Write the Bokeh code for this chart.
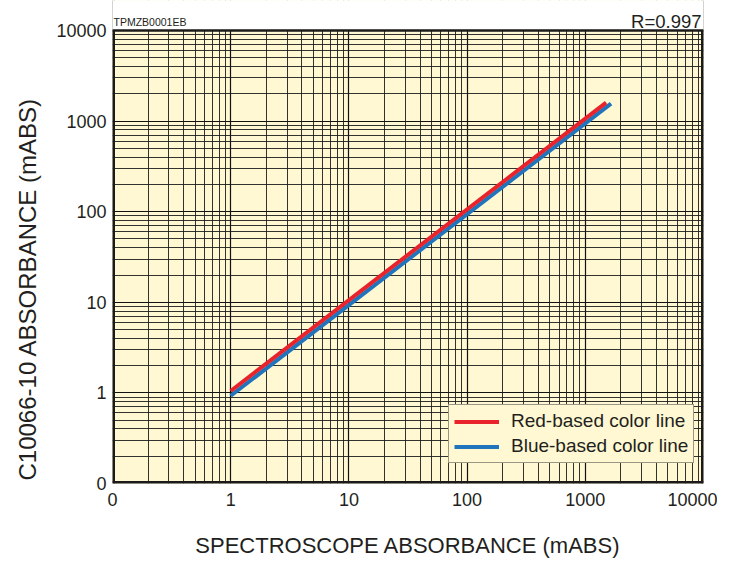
from bokeh.plotting import figure
from bokeh.models import FixedTicker, Grid, Label, Legend, LegendItem, Title, BoxAnnotation
from bokeh.embed import file_html
from bokeh.resources import INLINE

# ---- data ----
tick_values = [0.1, 1, 10, 100, 1000, 10000]
tick_labels = ["0", "1", "10", "100", "1000", "10000"]
red_x = [1.0, 1500.0]
red_y = [1.05, 1600.0]
blue_x = [1.0, 1650.0]
blue_y = [0.93, 1560.0]
series_names = ["Red-based color line", "Blue-based color line"]
r_text = "R=0.997"
code_text = "TPMZB0001EB"
x_title = "SPECTROSCOPE ABSORBANCE (mABS)"
y_title = "C10066-10 ABSORBANCE (mABS)"

FONT = "Liberation Sans"
BG = "#FFF8D3"
TXT = "#231F20"
EDGE = "#1a1a1a"

W, H = 717, 563
LEFT, RIGHT, BOTTOM = 112, 703, 483
STRIP = 30  # white band above the plot area (inside the canvas frame) for the top texts
xmin, xmax = tick_values[0], tick_values[-1]
ymin, ymax = tick_values[0], tick_values[-1]
px_per_decade = (BOTTOM - STRIP) / 5.0
y_top = ymax * 10 ** (STRIP / px_per_decade)

p = figure(width=W, height=H, x_axis_type="log", y_axis_type="log",
           x_range=(xmin, xmax), y_range=(ymin, y_top),
           output_backend="svg", toolbar_location=None,
           min_border_left=LEFT, min_border_right=W - RIGHT,
           min_border_top=0, min_border_bottom=H - BOTTOM)
p.background_fill_color = BG
p.border_fill_color = "white"
p.outline_line_color = None

minor = [k * 10.0 ** e for e in range(-1, 4) for k in range(2, 10)]

for ax in (p.xaxis[0], p.yaxis[0]):
    ax.ticker = FixedTicker(ticks=tick_values, minor_ticks=[])
    ax.major_label_overrides = {v: l for v, l in zip(tick_values, tick_labels)}
    ax.major_label_text_font = FONT
    ax.major_label_text_font_size = "18px"
    ax.major_label_text_color = TXT
    ax.major_tick_line_color = None
    ax.minor_tick_line_color = None
    ax.major_tick_out = 0
    ax.major_tick_in = 0
    ax.minor_tick_out = 0
    ax.minor_tick_in = 0
    ax.axis_line_color = None
    ax.major_label_standoff = 6

p.xaxis.major_label_standoff = 9
p.xaxis.axis_label = x_title
p.xaxis.axis_label_text_font = FONT
p.xaxis.axis_label_text_font_size = "22px"
p.xaxis.axis_label_text_font_style = "normal"
p.xaxis.axis_label_text_color = TXT
p.xaxis.axis_label_standoff = 24

p.add_layout(Title(text=y_title, align="left", offset=3, standoff=21,
                   vertical_align="top", text_font=FONT, text_font_size="24px",
                   text_font_style="normal", text_color=TXT), "left")

# grids
p.xgrid.ticker = FixedTicker(ticks=tick_values)
p.ygrid.ticker = FixedTicker(ticks=tick_values)
for g in (p.xgrid[0], p.ygrid[0]):
    g.grid_line_color = "#111111"
    g.grid_line_width = 1.2
    g.grid_line_alpha = 1.0
for dim in (0, 1):
    g = Grid(dimension=dim, ticker=FixedTicker(ticks=minor),
             grid_line_color="#1c1c1c", grid_line_width=1.0, grid_line_alpha=0.9)
    p.add_layout(g)

# plot-area border: left, right, bottom (half clipped by canvas frame)
p.segment(x0=[xmin, xmax, xmin], y0=[ymin, ymin, ymin],
          x1=[xmin, xmax, xmax], y1=[y_top, y_top, ymin],
          line_color=EDGE, line_width=5)

# lines
rb = p.line(blue_x, blue_y, line_color="#1F74BC", line_width=4)
rr = p.line(red_x, red_y, line_color="#E8232B", line_width=4)

# white band above the plot area, then its top edge
p.quad(left=[xmin / 2], right=[xmax * 2], bottom=[ymax], top=[y_top * 10],
       fill_color="white", line_color=None)
p.segment(x0=[xmin], y0=[ymax], x1=[xmax], y1=[ymax],
          line_color=EDGE, line_width=2.5)
p.add_layout(BoxAnnotation(bottom=ymax * 10 ** (1.4 / px_per_decade),
                           fill_color="white", fill_alpha=1.0,
                           line_color=None, line_alpha=0))

legend = Legend(items=[LegendItem(label=series_names[0], renderers=[rr]),
                       LegendItem(label=series_names[1], renderers=[rb])],
                location=(336, 20))
legend.background_fill_color = BG
legend.background_fill_alpha = 1.0
legend.border_line_color = "#333333"
legend.border_line_width = 1
legend.label_text_font = FONT
legend.label_text_font_size = "19px"
legend.label_text_color = TXT
legend.glyph_width = 45
legend.glyph_height = 19
legend.label_height = 19
legend.spacing = 3
legend.padding = 5
legend.margin = 0
legend.label_standoff = 12
p.add_layout(legend, "center")

p.add_layout(Label(x=xmin, y=ymax, text=code_text, x_offset=1, y_offset=9,
                   text_baseline="alphabetic", text_align="left",
                   text_font=FONT, text_font_size="10.5px", text_color=TXT))
p.add_layout(Label(x=xmax, y=ymax, text=r_text, x_offset=-2, y_offset=9,
                   text_baseline="alphabetic", text_align="right",
                   text_font=FONT, text_font_size="18.5px", text_color=TXT))

open("out.html", "w").write(file_html(p, INLINE))
